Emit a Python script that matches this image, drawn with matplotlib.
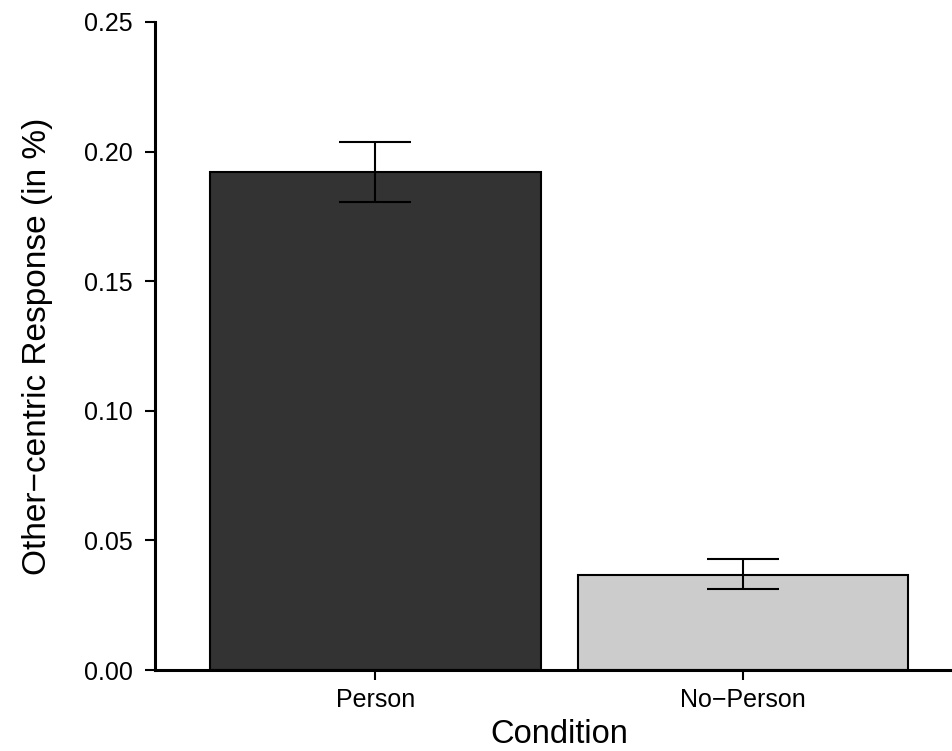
import matplotlib
matplotlib.use('Agg')
import matplotlib.pyplot as plt

# mean proportion of other-centric responses per condition, with SE
conditions = ['Person', 'No\u2212Person']
means = [0.1921, 0.0368]
err_low = [0.1806, 0.0313]
err_high = [0.2037, 0.0428]
bar_colors = ['#333333', '#CCCCCC']

plt.rcParams['font.family'] = ['Liberation Sans', 'DejaVu Sans']

fig = plt.figure(figsize=(9.53, 7.51), dpi=100)
ax = fig.add_axes([155 / 953, 81 / 751, 808.5 / 953, 648 / 751])

x = [1, 2]
ax.bar(x, means, width=0.9, color=bar_colors, edgecolor='black', linewidth=1.5, zorder=2)
lower = [m - lo for m, lo in zip(means, err_low)]
upper = [hi - m for m, hi in zip(means, err_high)]
ax.errorbar(x, means, yerr=[lower, upper], fmt='none', ecolor='black',
            elinewidth=1.5, capsize=26, capthick=1.5, zorder=3)

ax.set_xlim(0.4, 2.6)
ax.set_ylim(0, 0.25)
ax.set_xticks(x)
ax.set_xticklabels(conditions)
ax.set_yticks([0.0, 0.05, 0.10, 0.15, 0.20, 0.25])
ax.set_yticklabels(['0.00', '0.05', '0.10', '0.15', '0.20', '0.25'])

for side in ['top', 'right']:
    ax.spines[side].set_visible(False)
for side in ['left', 'bottom']:
    ax.spines[side].set_linewidth(2.2)
ax.tick_params(axis='both', length=7, width=1.5, labelsize=18)
ax.tick_params(axis='y', pad=9)
ax.tick_params(axis='x', pad=6)

ax.set_xlabel('Condition', fontsize=23.5, labelpad=5)
ax.set_ylabel('Other\u2212centric Response (in %)', fontsize=24, labelpad=22)

fig.savefig('out.png', dpi=100)
